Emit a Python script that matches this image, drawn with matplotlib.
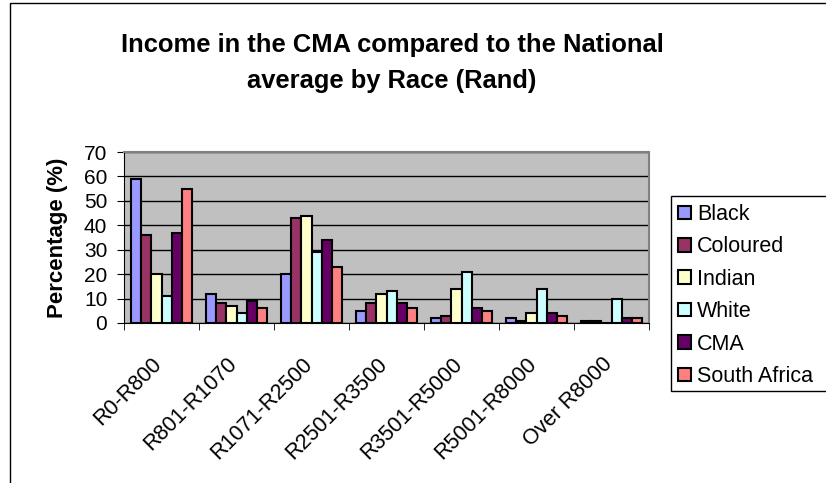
import numpy as np
import matplotlib
matplotlib.use('Agg')
import matplotlib.pyplot as plt
from matplotlib.patches import Rectangle
from matplotlib.transforms import ScaledTranslation

plt.rcParams['font.family'] = ['Liberation Sans', 'DejaVu Sans']

# Income bands and share of each group (%)
categories = ['R0-R800', 'R801-R1070', 'R1071-R2500', 'R2501-R3500',
              'R3501-R5000', 'R5001-R8000', 'Over R8000']
series_names = ['Black', 'Coloured', 'Indian', 'White', 'CMA', 'South Africa']
black = [59, 12, 20, 5, 2, 2, 1]
coloured = [36, 8, 43, 8, 3, 1, 1]
indian = [20, 7, 44, 12, 14, 4, 0]
white = [11, 4, 29, 13, 21, 14, 10]
cma = [37, 9, 34, 8, 6, 4, 2]
south_africa = [55, 6, 23, 6, 5, 3, 2]
colors = ['#9999FF', '#993366', '#FFFFCC', '#CCFFFF', '#660066', '#FF8080']

series = [black, coloured, indian, white, cma, south_africa]

W, H = 826, 483
fig = plt.figure(figsize=(W / 100, H / 100), dpi=100)

# outer chart border (right and bottom edges fall outside the image)
fig.add_artist(Rectangle((10 / W, -0.05), 1.2, 1 - 3 / H + 0.05,
                         transform=fig.transFigure, fill=False,
                         edgecolor='black', linewidth=1.0))

ax = fig.add_axes([124 / W, 1 - 323 / H, 525 / W, 171 / H])
ax.set_facecolor('#C0C0C0')

x = np.arange(len(categories))
width = 0.135
for i, (vals, name, col) in enumerate(zip(series, series_names, colors)):
    offs = (i - 2.5) * width
    ax.bar(x + offs, vals, width, color=col, edgecolor='black',
           linewidth=1.5, label=name, zorder=3)

ax.set_xlim(-0.5, len(categories) - 0.5)
ax.set_ylim(0, 70)
ax.set_yticks(range(0, 71, 10))
ax.yaxis.grid(True, color='black', linewidth=1.0, zorder=0)
ax.tick_params(axis='y', labelsize=15, length=5, direction='out', pad=7)

ax.set_xticks(x)
ax.set_xticklabels(categories, rotation=45, ha='right',
                   rotation_mode='anchor', fontsize=15.5)
ax.tick_params(axis='x', which='major', length=0, pad=22)
shift = ScaledTranslation(-10 / 100, 0, fig.dpi_scale_trans)
for lab in ax.get_xticklabels():
    lab.set_transform(lab.get_transform() + shift)
ax.set_xticks(np.arange(-0.5, len(categories)), minor=True)
ax.tick_params(axis='x', which='minor', length=5, direction='out')

for side in ['top', 'right']:
    ax.spines[side].set_color('#808080')
    ax.spines[side].set_linewidth(1.5)
ax.spines['left'].set_color('black')
ax.spines['bottom'].set_color('black')

ax.set_ylabel('Percentage (%)', fontsize=16, fontweight='bold')
ax.yaxis.set_label_coords((68 - 124) / 525, 0.5)

fig.text(392 / W, 1 - 63 / H,
         'Income in the CMA compared to the National\naverage by Race (Rand)',
         ha='center', va='center', fontsize=18.4, fontweight='bold',
         linespacing=1.6)

# legend box runs off the right edge
fig.add_artist(Rectangle((671 / W, 1 - 391 / H), 0.5, 195 / H,
                         transform=fig.transFigure, fill=False,
                         edgecolor='black', linewidth=1.0))
leg = fig.legend(loc='upper left', bbox_to_anchor=(678 / W, 1 - 204 / H),
                 fontsize=15.5, frameon=False,
                 handlelength=0.6, handleheight=0.6, handletextpad=0.28,
                 labelspacing=0.53, borderpad=0, borderaxespad=0)

fig.savefig('out.png', dpi=100)
